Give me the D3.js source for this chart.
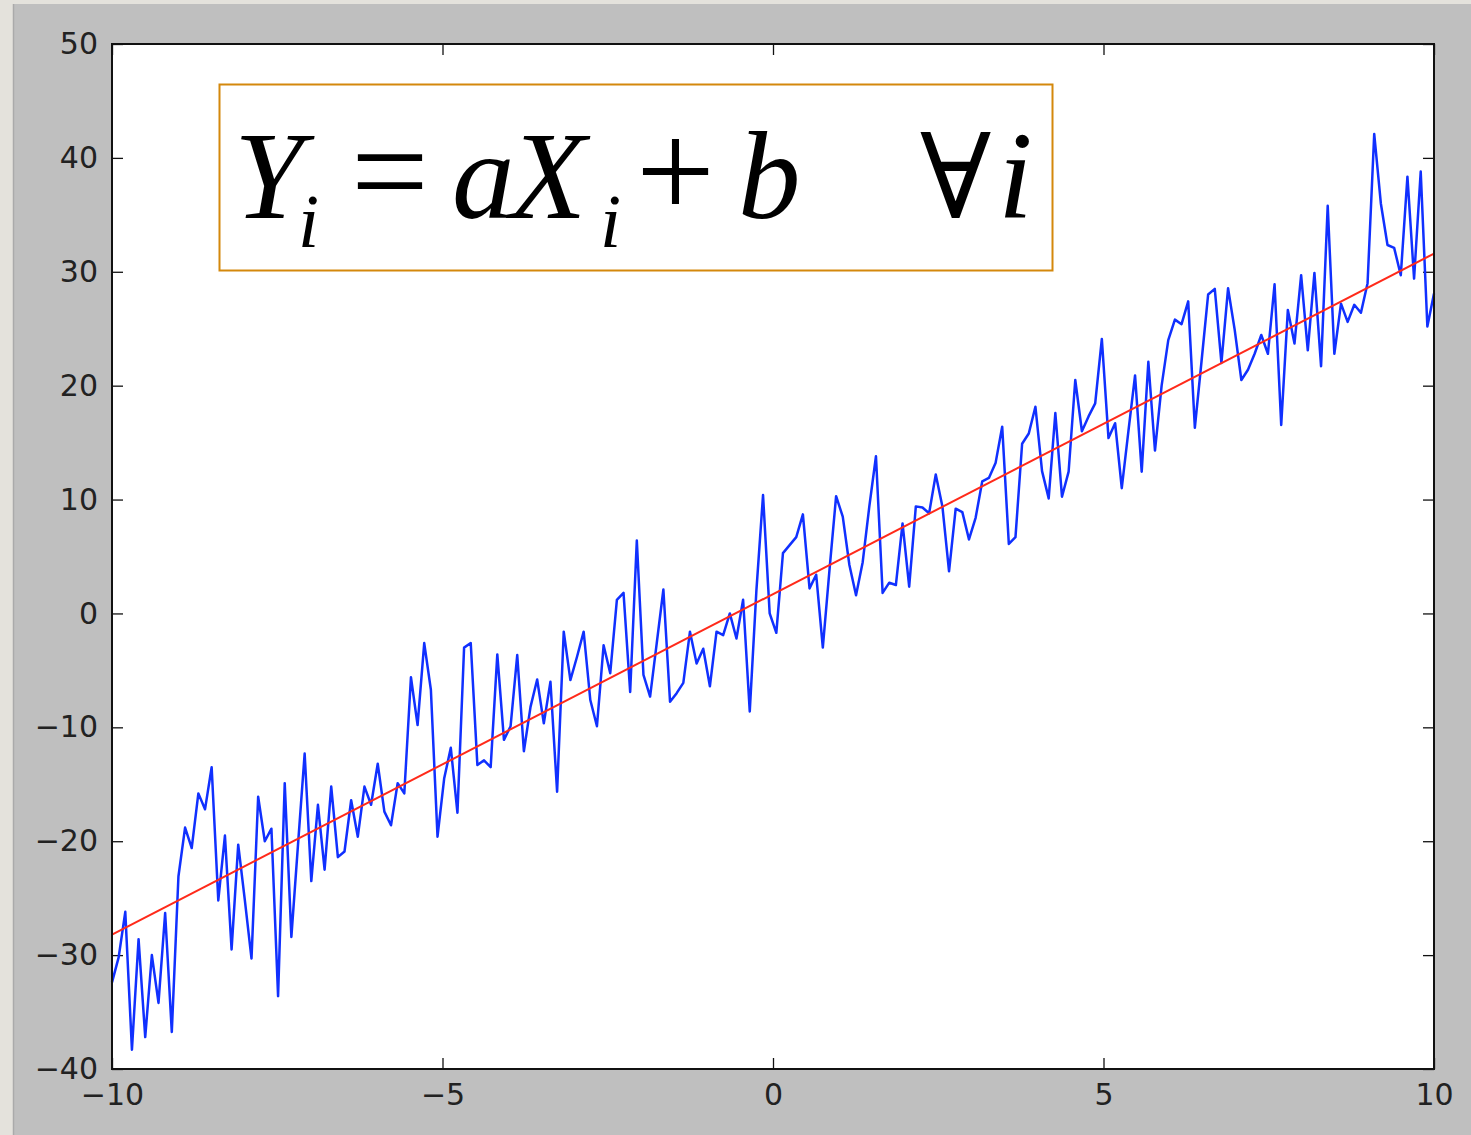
<!DOCTYPE html>
<html>
<head>
<meta charset="utf-8">
<script src="https://cdn.jsdelivr.net/npm/d3@7"></script>
<style>
  html, body { margin: 0; padding: 0; background: #e4e2dc; }
  svg { display: block; }
</style>
</head>
<body>
<div id="chart"></div>
<script>
// noisy samples (x runs -10..10, 200 samples)
const yNoisy = [
  -32.4, -30.2, -26.2, -38.3, -28.6, -37.2, -30.0, -34.2, -26.3, -36.75,
  -23.1, -18.8, -20.6, -15.8, -17.2, -13.5, -25.2, -19.5, -29.5, -20.3,
  -25.2, -30.3, -16.1, -20.0, -18.9, -33.6, -14.9, -28.4, -20.3, -12.3,
  -23.5, -16.8, -22.5, -15.2, -21.4, -20.9, -16.4, -19.6, -15.2, -16.8,
  -13.2, -17.4, -18.6, -14.9, -15.8, -5.6, -9.8, -2.6, -6.7, -19.6,
  -14.5, -11.8, -17.5, -3.0, -2.6, -13.3, -12.9, -13.5, -3.6, -11.1,
  -9.9, -3.65, -12.1, -8.2, -5.8, -9.65, -6.0, -15.65, -1.6, -5.85,
  -3.8, -1.6, -7.6, -9.9, -2.8, -5.25, 1.2, 1.8, -6.9, 6.4,
  -5.4, -7.3, -2.6, 2.1, -7.75, -7.0, -6.1, -1.6, -4.4, -3.1,
  -6.4, -1.6, -1.9, 0.0, -2.2, 1.2, -8.6, 2.0, 10.4, 0.0,
  -1.7, 5.3, 6.0, 6.7, 8.7, 2.2, 3.4, -3.0, 3.8, 10.3,
  8.5, 4.25, 1.6, 4.5, 9.4, 13.8, 1.8, 2.7, 2.5, 7.9,
  2.35, 9.4, 9.3, 8.8, 12.2, 9.4, 3.7, 9.2, 8.9, 6.5,
  8.4, 11.6, 11.9, 13.2, 16.4, 6.1, 6.7, 14.9, 15.8, 18.15,
  12.5, 10.1, 17.6, 10.25, 12.45, 20.5, 16.0, 17.3, 18.45, 24.1,
  15.4, 16.7, 11.0, 16.0, 20.9, 12.45, 22.1, 14.3, 20.0, 24.0,
  25.8, 25.4, 27.4, 16.3, 22.1, 28.0, 28.5, 22.0, 28.55, 24.9,
  20.5, 21.4, 22.8, 24.45, 22.8, 28.9, 16.55, 26.65, 23.7, 29.7,
  23.1, 29.9, 21.7, 35.8, 22.8, 27.2, 25.6, 27.1, 26.4, 29.0,
  42.1, 36.0, 32.35, 32.1, 29.7, 38.35, 29.4, 38.8, 25.2, 28.1
];
const xMin = -10, xMax = 10;
const xSamples = d3.range(yNoisy.length).map(i => xMin + i * (xMax - xMin) / (yNoisy.length - 1));

// fitted line end points
const fitX = [-10, 10];
const fitY = [-28.2, 31.6];

const xTicks = [-10, -5, 0, 5, 10];
const yTicks = [-40, -30, -20, -10, 0, 10, 20, 30, 40, 50];

const W = 1471, H = 1135;
const plotL = 112, plotR = 1434, plotT = 44, plotB = 1069;

const svg = d3.select('#chart').append('svg')
  .attr('width', W).attr('height', H);

// photo edge + grey figure background
svg.append('rect').attr('width', W).attr('height', H).attr('fill', '#e4e2dc');
svg.append('rect').attr('x', 14).attr('y', 4).attr('width', W - 14).attr('height', H - 4)
  .attr('fill', '#bfbfbf');
svg.append('line').attr('x1', 13.5).attr('x2', 13.5).attr('y1', 4).attr('y2', H)
  .attr('stroke', '#aaa').attr('stroke-width', 1.5);

const x = d3.scaleLinear().domain([xMin, xMax]).range([plotL, plotR]);
const y = d3.scaleLinear().domain([-40, 50]).range([plotB, plotT]);

svg.append('rect')
  .attr('x', plotL).attr('y', plotT)
  .attr('width', plotR - plotL).attr('height', plotB - plotT)
  .attr('fill', '#fff');

// ── Axes (ticks inward on all four sides) ─────────────────────────────────
const tickFont = "'DejaVu Sans', sans-serif";

const gLeft = svg.append('g').attr('transform', `translate(${plotL},0)`)
  .call(d3.axisLeft(y).tickValues(yTicks).tickSize(-11).tickPadding(14));
const gBottom = svg.append('g').attr('transform', `translate(0,${plotB})`)
  .call(d3.axisBottom(x).tickValues(xTicks).tickSize(-11).tickPadding(15));
const gRight = svg.append('g').attr('transform', `translate(${plotR},0)`)
  .call(d3.axisRight(y).tickValues(yTicks).tickSize(-11).tickFormat(''));
const gTop = svg.append('g').attr('transform', `translate(0,${plotT})`)
  .call(d3.axisTop(x).tickValues(xTicks).tickSize(-11).tickFormat(''));

[gLeft, gBottom, gRight, gTop].forEach(g => {
  g.select('.domain').remove();
  g.selectAll('.tick line').attr('stroke', '#111').attr('stroke-width', 1.3);
  g.selectAll('.tick text')
    .attr('fill', '#222')
    .attr('font-family', tickFont)
    .attr('font-size', '30px');
});

// ── Lines ─────────────────────────────────────────────────────────────────
const line = d3.line().x(d => x(d[0])).y(d => y(d[1]));

svg.append('path')
  .datum(xSamples.map((v, i) => [v, yNoisy[i]]))
  .attr('d', line)
  .attr('fill', 'none')
  .attr('stroke', '#1030ff')
  .attr('stroke-width', 2.5)
  .attr('stroke-linejoin', 'round');

svg.append('path')
  .datum(fitX.map((v, i) => [v, fitY[i]]))
  .attr('d', line)
  .attr('fill', 'none')
  .attr('stroke', '#ff2a1a')
  .attr('stroke-width', 2);

// frame
svg.append('rect')
  .attr('x', plotL).attr('y', plotT)
  .attr('width', plotR - plotL).attr('height', plotB - plotT)
  .attr('fill', 'none')
  .attr('stroke', '#111')
  .attr('stroke-width', 2);

// ── Formula box ───────────────────────────────────────────────────────────
svg.append('rect')
  .attr('x', 219.5).attr('y', 84.5)
  .attr('width', 833).attr('height', 186)
  .attr('fill', '#fff')
  .attr('stroke', '#d4880c')
  .attr('stroke-width', 2);

const serif = "'Liberation Serif', 'DejaVu Serif', serif";
const glyphs = [
  { t: 'Y', x: 234, y: 218, s: 125, it: true },
  { t: 'i', x: 298, y: 247, s: 76, it: true },
  { t: '=', x: 351, y: 218, s: 138, it: false },
  { t: 'a', x: 452, y: 218, s: 125, it: true },
  { t: 'X', x: 510, y: 218, s: 125, it: true },
  { t: 'i', x: 600, y: 247, s: 76, it: true },
  { t: '+', x: 636, y: 218, s: 140, it: false },
  { t: 'b', x: 738, y: 218, s: 125, it: true },
  { t: '\u2200', x: 920, y: 218, s: 118, it: false },
  { t: 'i', x: 998, y: 218, s: 125, it: true }
];
svg.selectAll('text.formula')
  .data(glyphs).enter()
  .append('text')
  .attr('class', 'formula')
  .attr('x', d => d.x).attr('y', d => d.y)
  .attr('font-family', serif)
  .attr('font-size', d => d.s + 'px')
  .attr('font-style', d => d.it ? 'italic' : 'normal')
  .attr('fill', '#000')
  .text(d => d.t);
</script>
</body>
</html>
